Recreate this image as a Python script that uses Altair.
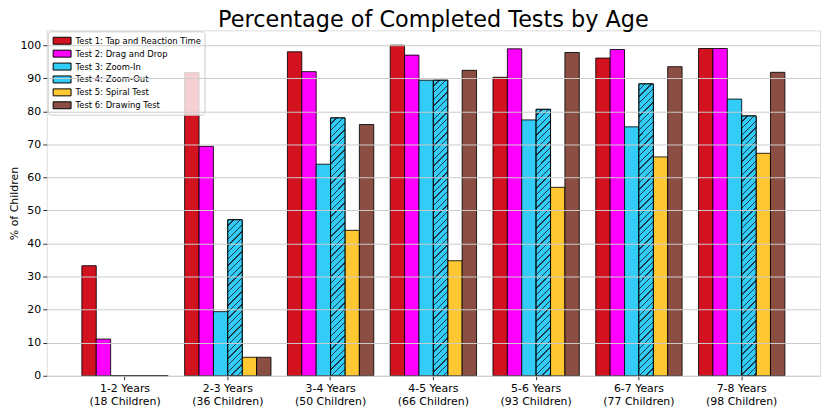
import json
import altair as alt
import pandas as pd

groups = ["1-2 Years\n(18 Children)", "2-3 Years\n(36 Children)", "3-4 Years\n(50 Children)",
          "4-5 Years\n(66 Children)", "5-6 Years\n(93 Children)", "6-7 Years\n(77 Children)",
          "7-8 Years\n(98 Children)"]
tests = ["Test 1: Tap and Reaction Time", "Test 2: Drag and Drop", "Test 3: Zoom-In",
         "Test 4: Zoom-Out", "Test 5: Spiral Test", "Test 6: Drawing Test"]
colors = ["#D2121F", "#FF00FF", "#33CCF7", "#33CCF7", "#FFC832", "#8A4E42"]

t1 = [33.3, 91.7, 98.0, 100.0, 90.3, 96.1, 99.0]
t2 = [11.1, 69.4, 92.0, 97.0, 98.9, 98.7, 99.0]
t3 = [0.0, 19.4, 64.0, 89.4, 77.4, 75.3, 83.7]
t4 = [0.0, 47.2, 78.0, 89.4, 80.6, 88.3, 78.6]
t5 = [0.0, 5.6, 44.0, 34.8, 57.0, 66.2, 67.3]
t6 = [0.0, 5.6, 76.0, 92.4, 97.8, 93.5, 91.8]
series = [t1, t2, t3, t4, t5, t6]

rows = []
for ti, (t, vals) in enumerate(zip(tests, series)):
    for gi, (g, v) in enumerate(zip(groups, vals)):
        rows.append({"group": g, "gi": gi, "test": t, "value": v})
df = pd.DataFrame(rows)

W, H = 779, 348
YMAX = 104.5
BAR_W = 14.5
HATCH_DARK = "#1a3a48"
HATCH_STEP = 6.7  # vertical pixel spacing of hatch lines


def stripes(period, tmax, frac=0.8):
    stops = []
    k = 0
    while k * period < tmax:
        a = k * period
        b = a + period * frac
        c = a + period
        stops.append({"offset": round(min(a, 1), 4), "color": colors[3]})
        stops.append({"offset": round(min(b, 1), 4), "color": colors[3]})
        stops.append({"offset": round(min(b, 1), 4), "color": HATCH_DARK})
        stops.append({"offset": round(min(c, 1), 4), "color": HATCH_DARK})
        k += 1
    stops.append({"offset": 1, "color": colors[3]})
    return stops


def hatch_gradient(w, h, step):
    r = w / h
    s = (r + 1) / (r * r + 1)
    period = step / (h * s * (r * r + 1))
    return {"gradient": "linear", "x1": 0, "y1": 0, "x2": s * r, "y2": s,
            "stops": stripes(period, 1.0)}


# legend symbol hatch (symbol is 18 x 7.2 px)
legend_grad = hatch_gradient(18, 7.2, 15)
legend_fill_expr = ("datum.value === 'Test 4: Zoom-Out' ? " + json.dumps(legend_grad)
                    + " : scale('color', datum.value)")

x_enc = alt.X("group:N", sort=groups,
              scale=alt.Scale(paddingInner=0.16, paddingOuter=0.342),
              axis=alt.Axis(title=None, labelAngle=0, labelExpr="split(datum.label, '\\n')",
                            labelFontSize=11, labelLineHeight=13, tickSize=4, labelPadding=3,
                            domain=False, grid=False, tickColor="#333", labelColor="black",
                            labelFont="DejaVu Sans"))
xo_enc = alt.XOffset("test:N", sort=tests, scale=alt.Scale(paddingInner=0, paddingOuter=0))
y_enc = alt.Y("value:Q", scale=alt.Scale(domain=[0, YMAX], nice=False),
              axis=alt.Axis(title="% of Children", values=list(range(0, 101, 10)),
                            labelFontSize=11, titleFontSize=11, titleFontWeight="normal",
                            titleFont="DejaVu Sans", labelFont="DejaVu Sans",
                            titleX=-32, titleY=H / 2, titleAngle=270, titleAlign="center",
                            titleBaseline="middle",
                            tickSize=4, labelPadding=2, domain=False,
                            grid=True, gridColor="#cccccc", gridWidth=1, tickColor="#333",
                            labelColor="black", titleColor="black", zindex=1))

base = alt.Chart(df).encode(x=x_enc, xOffset=xo_enc, y=y_enc)


def build(legend_encode):
    legend_kw = dict(title=None, orient="top-left", offset=1, padding=3,
                     fillColor="rgba(255,255,255,0.8)", strokeColor="#cccccc",
                     cornerRadius=3, labelFontSize=8.5, labelFont="DejaVu Sans",
                     labelColor="black", labelLimit=400,
                     symbolType="M-1.57,-0.61H1.57V0.61H-1.57Z",
                     symbolSize=132, symbolStrokeColor="black",
                     symbolStrokeWidth=1, symbolOpacity=1,
                     rowPadding=0, labelOffset=7, symbolOffset=5)
    if legend_encode is not None:
        legend_kw["encode"] = legend_encode
    bars = base.mark_bar(stroke="black", strokeWidth=1, strokeOpacity=0.85, opacity=1).encode(
        color=alt.Color("test:N", sort=tests, scale=alt.Scale(domain=tests, range=colors),
                        legend=alt.Legend(**legend_kw))
    )
    layers = [bars]
    for gi, v in enumerate(t4):
        if v <= 0:
            continue
        h = v / YMAX * H
        g = hatch_gradient(BAR_W, h, HATCH_STEP)
        grad = alt.LinearGradient(**g)
        layer = base.transform_filter(
            (alt.datum.gi == gi) & (alt.datum.test == tests[3])
        ).mark_bar(fill=grad, stroke="black", strokeWidth=1)
        layers.append(layer)

    return alt.layer(*layers).properties(
        width=W, height=H,
        title=alt.Title("Percentage of Completed Tests by Age", fontSize=22.5, font="DejaVu Sans",
                        fontWeight="normal", anchor="middle", offset=-1.5, color="black"),
        autosize=alt.AutoSizeParams(type="none"),
        padding={"left": 39, "top": 21, "right": 2, "bottom": 35},
    ).configure_view(stroke="#333", strokeWidth=1).configure(background="white")


chart = None
for enc in ({"symbols": {"update": {"fill": {"signal": legend_fill_expr}}}},
            {"symbols": {"update": {"fill": {"expr": legend_fill_expr}}}},
            None):
    try:
        c = build(enc)
        c.to_dict()
        chart = c
        break
    except Exception:
        continue

chart.save("out.html", embed_options={"renderer": "svg", "actions": False})
